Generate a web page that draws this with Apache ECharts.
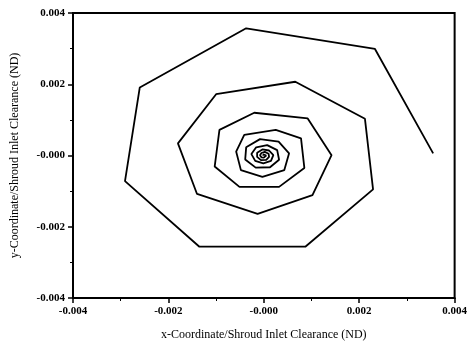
<!DOCTYPE html>
<html>
<head>
<meta charset="utf-8">
<script src="https://cdn.jsdelivr.net/npm/echarts@6/dist/echarts.min.js"></script>
<style>html,body{margin:0;padding:0;background:#fff}#c{width:470px;height:346px}</style>
</head>
<body>
<div id="c"></div>
<script>
var xTitle = 'x-Coordinate/Shroud Inlet Clearance (ND)';
var yTitle = 'y-Coordinate/Shroud Inlet Clearance (ND)';
var xTickLabels = ['-0.004', '-0.002', '-0.000', '0.002', '0.004'];
var yTickLabels = ['-0.004', '-0.002', '-0.000', '0.002', '0.004'];
var xCoord = [
  0.00355, 0.00233, -0.00037, -0.00260, -0.00291, -0.00135, 0.00087, 0.00229, 0.00212,
  0.00066, -0.00100, -0.00180, -0.00140, -0.00013, 0.00102, 0.00142, 0.00092, -0.00020,
  -0.00093, -0.00103, -0.00051, 0.00032, 0.00085, 0.00078, 0.00025, -0.00041, -0.00058,
  -0.00048, -0.00003, 0.00043, 0.00053, 0.00031, -0.00008, -0.00037, -0.00039, -0.00017,
  0.00013, 0.00032, 0.00028, 0.00007, -0.00016, -0.00026, -0.00018, -0.00001, 0.00015,
  0.00020, 0.00011, -0.00003, -0.00014, -0.00014, -0.00006, 0.00005, 0.00011, 0.00010,
  0.00002, -0.00005, -0.00008, -0.00005, 0.00000, 0.00004, 0.00005, 0.00002, -0.00001,
  -0.00002, -0.00001, 0.00000
];
var yCoord = [
  0.00006, 0.00299, 0.00357, 0.00191, -0.00072, -0.00256, -0.00256, -0.00095, 0.00103,
  0.00207, 0.00172, 0.00034, -0.00108, -0.00164, -0.00111, 0.00001, 0.00104, 0.00120,
  0.00072, -0.00031, -0.00088, -0.00088, -0.00035, 0.00048, 0.00072, 0.00058, 0.00011,
  -0.00041, -0.00060, -0.00041, 0.00006, 0.00039, 0.00046, 0.00023, -0.00011, -0.00034,
  -0.00033, -0.00012, 0.00015, 0.00029, 0.00023, 0.00004, -0.00015, -0.00022, -0.00015,
  0.00001, 0.00014, 0.00017, 0.00008, -0.00004, -0.00013, -0.00012, -0.00004, 0.00005,
  0.00010, 0.00007, 0.00001, -0.00005, -0.00006, -0.00004, 0.00000, 0.00003, 0.00003,
  0.00001, -0.00001, 0.00000
];

var points = xCoord.map(function (x, i) { return [x, yCoord[i]]; });
var FONT = 'Liberation Serif';
function labelFrom(arr) {
  return function (v) {
    var idx = Math.round((v + 0.004) / 0.002);
    return arr[idx] !== undefined ? arr[idx] : '';
  };
}
var chart = echarts.init(document.getElementById('c'), null, {renderer: 'canvas'});
chart.setOption({
  animation: false,
  backgroundColor: '#fff',
  grid: {left: 73, right: 14, top: 13, bottom: 48, show: true, borderColor: '#000', borderWidth: 2, backgroundColor: 'transparent'},
  xAxis: {
    type: 'value', min: -0.004, max: 0.004, interval: 0.002,
    name: xTitle, nameLocation: 'middle', nameGap: 31,
    nameTextStyle: {fontFamily: FONT, fontSize: 12, color: '#000'},
    axisLine: {show: true, onZero: false, lineStyle: {color: '#000', width: 2}},
    axisTick: {show: true, length: 5, inside: false, lineStyle: {color: '#000', width: 1.5}},
    minorTick: {show: true, splitNumber: 2, length: 3, lineStyle: {color: '#000', width: 1}},
    splitLine: {show: false},
    axisLabel: {fontFamily: FONT, fontSize: 11, fontWeight: 'bold', color: '#000', margin: 8, formatter: labelFrom(xTickLabels)}
  },
  yAxis: {
    type: 'value', min: -0.004, max: 0.004, interval: 0.002,
    name: yTitle, nameLocation: 'middle', nameGap: 52,
    nameTextStyle: {fontFamily: FONT, fontSize: 12, color: '#000'},
    axisLine: {show: true, onZero: false, lineStyle: {color: '#000', width: 2}},
    axisTick: {show: true, length: 5, inside: false, lineStyle: {color: '#000', width: 1.5}},
    minorTick: {show: true, splitNumber: 2, length: 3, lineStyle: {color: '#000', width: 1}},
    splitLine: {show: false},
    axisLabel: {fontFamily: FONT, fontSize: 11, fontWeight: 'bold', color: '#000', margin: 8, formatter: labelFrom(yTickLabels)}
  },
  series: [{
    type: 'line',
    data: points,
    showSymbol: false,
    symbol: 'none',
    lineStyle: {color: '#000', width: 1.8},
    clip: true
  }]
});
</script>
</body>
</html>
